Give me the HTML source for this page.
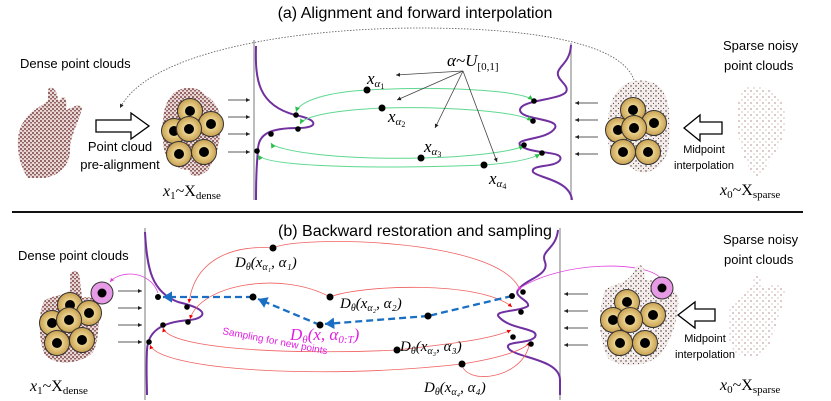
<!DOCTYPE html>
<html><head><meta charset="utf-8"><style>
html,body{margin:0;padding:0;background:#fff;width:831px;height:401px;overflow:hidden}
svg text{font-family:"Liberation Sans",sans-serif}
.m{font-family:"Liberation Serif",serif;font-style:italic}
.s{font-family:"Liberation Serif",serif;font-style:normal}
</style></head><body>
<svg width="831" height="401" viewBox="0 0 831 401" xmlns="http://www.w3.org/2000/svg">
<defs>
<pattern id="dd" width="4" height="4" patternUnits="userSpaceOnUse">
<rect width="4" height="4" fill="#e8d8d8"/><circle cx="1" cy="1" r="0.9" fill="#5a1515"/><circle cx="3" cy="2.8" r="0.8" fill="#6b2020"/>
</pattern>
<pattern id="sp" width="6" height="6" patternUnits="userSpaceOnUse">
<rect width="6" height="6" fill="#fff"/><circle cx="1" cy="1" r="0.6" fill="#8b4a4a"/><circle cx="4" cy="4" r="0.5" fill="#a06060"/>
</pattern>
<pattern id="md" width="5" height="5" patternUnits="userSpaceOnUse">
<rect width="5" height="5" fill="#f3eeec"/><circle cx="1" cy="1" r="0.7" fill="#4a3030"/><circle cx="3.5" cy="3.5" r="0.6" fill="#6a4a4a"/>
</pattern>
<radialGradient id="cg"><stop offset="0.3" stop-color="#f0dc9a"/><stop offset="1" stop-color="#c9a050"/></radialGradient>
<marker id="a" markerWidth="6" markerHeight="6" refX="5" refY="3" orient="auto"><path d="M0,0.5 L5,3 L0,5.5z" fill="#222"/></marker>
<marker id="g" markerWidth="6" markerHeight="6" refX="5" refY="3" orient="auto"><path d="M0,0.5 L5,3 L0,5.5z" fill="#2bbf4a"/></marker>
<marker id="r" markerWidth="6" markerHeight="6" refX="5" refY="3" orient="auto"><path d="M0,0.5 L5,3 L0,5.5z" fill="#e00"/></marker>
<marker id="b" markerWidth="5" markerHeight="5" refX="4" refY="2.5" orient="auto"><path d="M0,0 L4,2.5 L0,5z" fill="#1a6fc4"/></marker>
<marker id="p" markerWidth="6" markerHeight="6" refX="5" refY="3" orient="auto"><path d="M0,0.5 L5,3 L0,5.5z" fill="#e040e0"/></marker>
<g id="cir"><circle r="12.5" fill="url(#cg)" stroke="#333" stroke-width="1"/><circle r="5" fill="#000"/></g>
</defs>

<text x="415" y="18" font-size="16" text-anchor="middle">(a) Alignment and forward interpolation</text>
<line x1="12" y1="212" x2="803" y2="212" stroke="#111" stroke-width="2"/>
<text x="415" y="236" font-size="16" text-anchor="middle">(b) Backward restoration and sampling</text>

<!-- TOP -->
<path d="M634,80 C620,40 520,28 420,28 C300,28 150,50 120,108" fill="none" stroke="#555" stroke-width="0.8" stroke-dasharray="1.5,1.5" marker-end="url(#a)"/>
<text x="20" y="68" font-size="13">Dense point clouds</text>
<path d="M28,178 C15,160 15,130 25,120 C30,110 45,105 48,100 L48,90 C50,85 57,88 58,100 L60,100 C62,95 68,95 66,110 C72,108 80,102 82,108 C80,120 70,135 70,150 C70,165 60,175 45,178z" fill="url(#dd)"/>
<path d="M96,120 L131,120 L131,113 L149,126 L131,139 L131,132 L96,132z" fill="#fff" stroke="#000" stroke-width="1.3"/>
<text x="120" y="151" font-size="13" text-anchor="middle">Point cloud</text>
<text x="120" y="169" font-size="13" text-anchor="middle">pre-alignment</text>
<path d="M172,95 C180,85 200,86 205,95 C215,100 225,115 220,135 C218,150 215,160 208,170 C200,178 188,178 190,170 C175,170 163,160 163,140 C162,120 163,105 172,95z" fill="url(#dd)"/>
<use href="#cir" x="190" y="111"/><use href="#cir" x="211" y="124"/><use href="#cir" x="174" y="131"/><use href="#cir" x="189" y="129"/><use href="#cir" x="179" y="154"/><use href="#cir" x="204" y="152"/>
<text x="163" y="196" font-size="16" class="m">x<tspan class="s" font-size="11" dy="3">1</tspan><tspan class="s" dy="-3">~X</tspan><tspan class="s" font-size="11" dy="3">dense</tspan></text>
<g stroke="#222" stroke-width="0.8" marker-end="url(#a)"><line x1="228" y1="100" x2="250" y2="100"/><line x1="228" y1="117" x2="250" y2="117"/><line x1="228" y1="134" x2="250" y2="134"/><line x1="228" y1="152" x2="250" y2="152"/></g>
<line x1="254" y1="40" x2="254" y2="200" stroke="#999" stroke-width="1.3"/>
<line x1="571" y1="43" x2="571" y2="200" stroke="#999" stroke-width="1.3"/>
<path d="M256,46 C255,80 258,105 295,115 C320,120 318,128 298,128 C270,128 258,134 258,150 C256,170 256,185 256,200" fill="none" stroke="#7030a0" stroke-width="2"/>
<path d="M571,45 C570,62 560,65 558,72 C556,80 570,85 566,92 C560,100 520,100 520,110 C520,120 560,118 555,128 C548,140 515,138 520,145 C530,155 565,150 560,160 C555,168 530,164 533,172 C538,178 570,180 572,200" fill="none" stroke="#7030a0" stroke-width="2"/>
<g fill="none" stroke="#5fd890" stroke-width="1"><path d="M367,90 C330,92 300,100 296,112" marker-end="url(#g)"/><path d="M367,90 C440,86 520,90 533,100" marker-end="url(#g)"/><path d="M382,108 C340,110 305,115 300,124" marker-end="url(#g)"/><path d="M382,108 C450,106 520,112 532,121" marker-end="url(#g)"/><path d="M421,158 C470,157 510,152 524,146" marker-end="url(#g)"/><path d="M421,158 C330,160 275,150 271,143" marker-end="url(#g)"/><path d="M484,165 C510,163 530,160 540,154" marker-end="url(#g)"/><path d="M484,165 C350,170 265,165 258,155" marker-end="url(#g)"/></g>
<g fill="#000"><circle cx="367" cy="90" r="3.5"/><circle cx="382" cy="108" r="3.5"/><circle cx="421" cy="158" r="3.5"/><circle cx="484" cy="165" r="3.5"/><circle cx="296" cy="115" r="2.8"/><circle cx="298" cy="129" r="2.8"/><circle cx="271" cy="134" r="2.8"/><circle cx="257" cy="151" r="2.8"/><circle cx="534" cy="101" r="2.8"/><circle cx="533" cy="121" r="2.8"/><circle cx="524" cy="145" r="2.8"/><circle cx="542" cy="153" r="2.8"/></g>
<g stroke="#444" stroke-width="0.8" marker-end="url(#a)"><line x1="463" y1="71" x2="396" y2="75"/><line x1="463" y1="71" x2="397" y2="100"/><line x1="463" y1="71" x2="435" y2="128"/><line x1="463" y1="71" x2="497" y2="162"/></g>
<text x="447" y="66" font-size="17" class="m">α~U<tspan class="s" font-size="11" dy="4">[0,1]</tspan></text>
<text x="367" y="84" font-size="17" class="m">x<tspan font-size="11" dy="3">α</tspan><tspan class="s" font-size="8" dy="2">1</tspan></text>
<text x="388" y="122" font-size="17" class="m">x<tspan font-size="11" dy="3">α</tspan><tspan class="s" font-size="8" dy="2">2</tspan></text>
<text x="424" y="152" font-size="17" class="m">x<tspan font-size="11" dy="3">α</tspan><tspan class="s" font-size="8" dy="2">3</tspan></text>
<text x="489" y="184" font-size="17" class="m">x<tspan font-size="11" dy="3">α</tspan><tspan class="s" font-size="8" dy="2">4</tspan></text>
<g stroke="#222" stroke-width="0.8" marker-end="url(#a)"><line x1="598" y1="103" x2="575" y2="103"/><line x1="598" y1="120" x2="575" y2="120"/><line x1="598" y1="137" x2="575" y2="137"/><line x1="598" y1="154" x2="575" y2="154"/></g>
<path d="M630,82 C645,78 660,82 665,95 C672,110 670,140 668,150 C665,165 650,175 640,172 C630,170 630,162 620,165 C608,160 607,140 608,120 C610,100 615,88 630,82z" fill="url(#md)"/>
<use href="#cir" x="633" y="110"/><use href="#cir" x="654" y="123"/><use href="#cir" x="618" y="130"/><use href="#cir" x="634" y="128"/><use href="#cir" x="623" y="152"/><use href="#cir" x="648" y="152"/>
<path d="M722,122 L700,122 L700,115 L684,128 L700,141 L700,134 L722,134z" fill="#fff" stroke="#000" stroke-width="1.3"/>
<text x="704" y="153" font-size="11" text-anchor="middle">Midpoint</text><text x="704" y="169" font-size="11" text-anchor="middle">interpolation</text>
<text x="723" y="50" font-size="13">Sparse noisy</text><text x="724" y="70" font-size="13">point clouds</text>
<path d="M745,88 C760,82 778,90 785,110 C790,130 778,150 770,160 C765,170 760,178 755,175 C745,165 740,150 738,130 C736,110 738,95 745,88z" fill="url(#sp)"/>
<text x="720" y="195" font-size="16" class="m">x<tspan class="s" font-size="11" dy="3">0</tspan><tspan class="s" dy="-3">~X</tspan><tspan class="s" font-size="11" dy="3">sparse</tspan></text>

<!-- BOTTOM -->
<text x="18" y="260" font-size="13">Dense point clouds</text>
<path d="M45,355 C38,340 38,310 45,300 C55,295 65,295 70,290 L70,275 C72,268 80,270 80,280 L82,298 C90,295 100,300 100,310 C98,330 98,350 90,355 C75,365 55,365 45,355z" fill="url(#dd)"/>
<use href="#cir" x="70" y="305"/><use href="#cir" x="89" y="313"/><use href="#cir" x="52" y="323"/><use href="#cir" x="69" y="320"/><use href="#cir" x="57" y="343"/><use href="#cir" x="82" y="340"/>
<circle cx="102" cy="293" r="11" fill="#e79ae6" stroke="#333"/><circle cx="102" cy="293" r="4.5" fill="#000"/>
<path d="M158,293 C150,270 120,270 110,282" fill="none" stroke="#e040e0" stroke-width="0.8" marker-end="url(#p)"/>
<text x="30" y="391" font-size="16" class="m">x<tspan class="s" font-size="11" dy="3">1</tspan><tspan class="s" dy="-3">~X</tspan><tspan class="s" font-size="11" dy="3">dense</tspan></text>
<g stroke="#222" stroke-width="0.8" marker-end="url(#a)"><line x1="118" y1="291" x2="142" y2="291"/><line x1="118" y1="308" x2="142" y2="308"/><line x1="118" y1="325" x2="142" y2="325"/><line x1="118" y1="342" x2="142" y2="342"/></g>
<line x1="145" y1="228" x2="145" y2="400" stroke="#999" stroke-width="1.3"/>
<line x1="560" y1="228" x2="560" y2="400" stroke="#999" stroke-width="1.3"/>
<path d="M145,232 C147,270 152,292 178,302 C212,310 205,318 190,320 C160,322 148,332 147,350 C146,370 147,385 147,395" fill="none" stroke="#7030a0" stroke-width="2"/>
<path d="M558,230 C556,250 540,250 545,262 C550,275 525,280 520,288 C510,296 530,300 528,306 C520,312 490,310 500,318 C512,330 540,328 535,337 C528,345 500,340 510,350 C520,358 560,360 560,380 L560,395" fill="none" stroke="#7030a0" stroke-width="2"/>
<g fill="none" stroke="#f06060" stroke-width="0.8">
<path d="M273,248 C300,235 500,238 520,290"/><path d="M273,248 C240,245 195,255 189,303" marker-end="url(#r)"/>
<path d="M330,297 C360,285 480,280 512,307" marker-end="url(#r)"/><path d="M330,297 C280,270 200,285 190,319" marker-end="url(#r)"/>
<path d="M397,350 C440,345 490,340 511,330" marker-end="url(#r)"/><path d="M397,350 C300,355 170,350 163,328" marker-end="url(#r)"/>
<path d="M462,364 C500,358 525,350 530,342" marker-end="url(#r)"/><path d="M462,364 C320,380 160,370 150,345" marker-end="url(#r)"/>
<path d="M462,364 C465,385 520,380 529,346"/>
</g>
<g stroke="#1a6fc4" stroke-width="2.3" stroke-dasharray="7,4" fill="none"><line x1="512" y1="296" x2="428" y2="316"/><line x1="428" y1="316" x2="325" y2="324" marker-end="url(#b)"/><line x1="320" y1="325" x2="258" y2="299" marker-end="url(#b)"/><line x1="253" y1="297" x2="163" y2="297" marker-end="url(#b)"/></g>
<g fill="#000"><circle cx="273" cy="248" r="3.5"/><circle cx="330" cy="297" r="3.5"/><circle cx="253" cy="297" r="3.5"/><circle cx="320" cy="325" r="3.5"/><circle cx="428" cy="316" r="3.5"/><circle cx="397" cy="350" r="3.5"/><circle cx="462" cy="364" r="3.5"/><circle cx="158" cy="297" r="3"/><circle cx="187" cy="307" r="2.8"/><circle cx="188" cy="322" r="2.8"/><circle cx="163" cy="325" r="2.8"/><circle cx="149" cy="342" r="2.8"/><circle cx="512" cy="296" r="3"/><circle cx="523" cy="292" r="2.8"/><circle cx="521" cy="312" r="2.8"/><circle cx="513" cy="337" r="2.8"/><circle cx="531" cy="344" r="2.8"/></g>
<path d="M662,280 C650,260 560,260 517,290" fill="none" stroke="#e040e0" stroke-width="0.8" marker-end="url(#p)"/>
<text x="235" y="267" font-size="15" class="m">D<tspan font-size="10" dy="3">θ</tspan><tspan dy="-3">(x</tspan><tspan font-size="10" dy="3">α₁</tspan><tspan dy="-3">, α₁)</tspan></text>
<text x="340" y="308" font-size="15" class="m">D<tspan font-size="10" dy="3">θ</tspan><tspan dy="-3">(x</tspan><tspan font-size="10" dy="3">α₂</tspan><tspan dy="-3">, α₂)</tspan></text>
<text x="400" y="351" font-size="15" class="m">D<tspan font-size="10" dy="3">θ</tspan><tspan dy="-3">(x</tspan><tspan font-size="10" dy="3">α₃</tspan><tspan dy="-3">, α₃)</tspan></text>
<text x="424" y="392" font-size="15" class="m">D<tspan font-size="10" dy="3">θ</tspan><tspan dy="-3">(x</tspan><tspan font-size="10" dy="3">α₄</tspan><tspan dy="-3">, α₄)</tspan></text>
<text x="290" y="340" font-size="17" class="m" fill="#e020e0">D<tspan font-size="11" dy="3">θ</tspan><tspan dy="-3">(x, α</tspan><tspan font-size="11" dy="3">0:T</tspan><tspan dy="-3">)</tspan></text>
<text x="222" y="334" font-size="10" fill="#e020e0" transform="rotate(11 222 334)">Sampling for new points</text>
<g stroke="#222" stroke-width="0.8" marker-end="url(#a)"><line x1="588" y1="294" x2="564" y2="294"/><line x1="588" y1="311" x2="564" y2="311"/><line x1="588" y1="328" x2="564" y2="328"/><line x1="588" y1="345" x2="564" y2="345"/></g>
<path d="M635,268 C640,262 645,265 645,280 C660,280 670,285 678,295 C680,315 672,340 660,355 C645,368 620,368 608,358 C598,340 598,310 605,290 C615,282 630,285 635,268z" fill="url(#md)"/>
<use href="#cir" x="627" y="302"/><use href="#cir" x="653" y="315"/><use href="#cir" x="613" y="320"/><use href="#cir" x="630" y="320"/><use href="#cir" x="620" y="343"/><use href="#cir" x="645" y="343"/>
<circle cx="662" cy="288" r="11" fill="#e79ae6" stroke="#333"/><circle cx="662" cy="288" r="4.5" fill="#000"/>
<path d="M715,309 L695,309 L695,302 L678,315 L695,328 L695,321 L715,321z" fill="#fff" stroke="#000" stroke-width="1.3"/>
<text x="705" y="342" font-size="11" text-anchor="middle">Midpoint</text><text x="705" y="358" font-size="11" text-anchor="middle">interpolation</text>
<text x="723" y="244" font-size="13">Sparse noisy</text><text x="724" y="264" font-size="13">point clouds</text>
<path d="M735,352 C725,340 725,310 735,300 C745,295 750,290 752,285 L755,275 C758,270 762,275 760,290 C768,285 778,280 785,290 C782,310 775,330 770,345 C760,360 745,360 735,352z" fill="url(#sp)"/>
<text x="720" y="390" font-size="16" class="m">x<tspan class="s" font-size="11" dy="3">0</tspan><tspan class="s" dy="-3">~X</tspan><tspan class="s" font-size="11" dy="3">sparse</tspan></text>
</svg>
</body></html>
